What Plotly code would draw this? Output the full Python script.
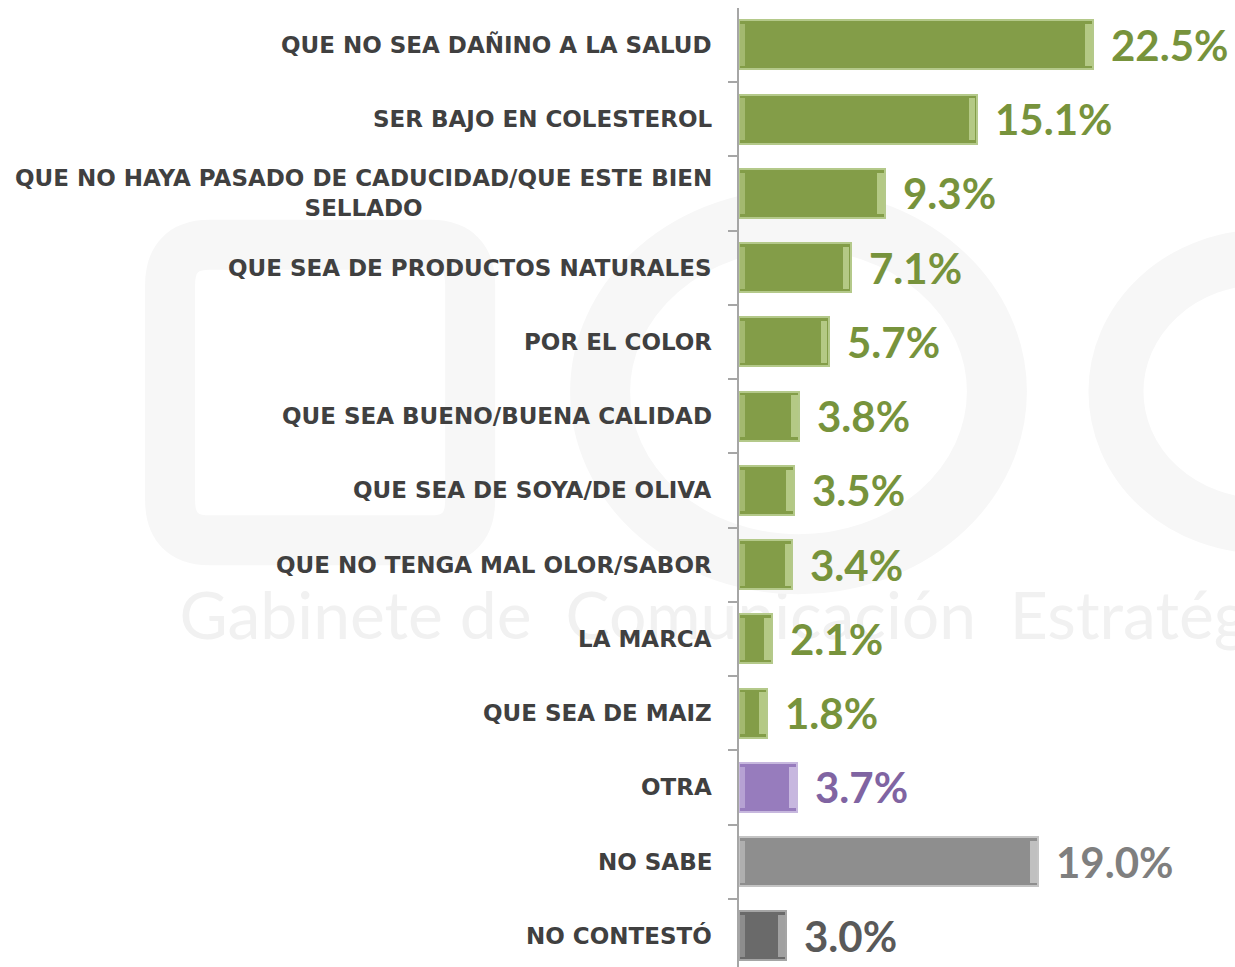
import plotly.graph_objects as go

# ---------------- data ----------------
categories = [
    "QUE NO SEA DAÑINO A LA SALUD",
    "SER BAJO EN COLESTEROL",
    "QUE NO HAYA PASADO DE CADUCIDAD/QUE ESTE BIEN<br>SELLADO",
    "QUE SEA DE PRODUCTOS NATURALES",
    "POR EL COLOR",
    "QUE SEA BUENO/BUENA CALIDAD",
    "QUE SEA DE SOYA/DE OLIVA",
    "QUE NO TENGA MAL OLOR/SABOR",
    "LA MARCA",
    "QUE SEA DE MAIZ",
    "OTRA",
    "NO SABE",
    "NO CONTESTÓ",
]
values = [22.5, 15.1, 9.3, 7.1, 5.7, 3.8, 3.5, 3.4, 2.1, 1.8, 3.7, 19.0, 3.0]
value_labels = ["22.5%", "15.1%", "9.3%", "7.1%", "5.7%", "3.8%", "3.5%", "3.4%",
                "2.1%", "1.8%", "3.7%", "19.0%", "3.0%"]

# ---------------- styles ----------------
GREEN, PURPLE, GRAY, DGRAY = "#839d48", "#977cbd", "#8e8e8e", "#6a6a6a"
bar_colors = [GREEN] * 10 + [PURPLE, GRAY, DGRAY]
edge_colors = ["#b4c98a"] * 10 + ["#c7b8de", "#c4c4c4", "#a5a5a5"]
hi_colors = ["#c9dc9f"] * 10 + ["#dcd0ee", "#d6d6d6", "#b9b9b9"]
text_colors = ["#77933c"] * 10 + ["#8064a2", "#7f7f7f", "#595959"]
LABEL_COLOR = "#404040"

pos = list(range(len(categories)))
bevel = 0.42  # width of the end highlight, in axis units

fig = go.Figure()

# main bars
fig.add_trace(go.Bar(
    y=pos, x=values, orientation="h", width=0.66,
    marker=dict(color=bar_colors, line=dict(color=edge_colors, width=2)),
    hoverinfo="skip", showlegend=False,
))
# bevel highlights at both ends
fig.add_trace(go.Bar(
    y=pos, x=[bevel] * len(values), base=[v - bevel - 0.08 for v in values],
    orientation="h", width=0.56,
    marker=dict(color=hi_colors, opacity=0.7, line=dict(width=0)),
    hoverinfo="skip", showlegend=False,
))
fig.add_trace(go.Bar(
    y=pos, x=[bevel * 0.7] * len(values), base=[0.08] * len(values),
    orientation="h", width=0.56,
    marker=dict(color=hi_colors, opacity=0.45, line=dict(width=0)),
    hoverinfo="skip", showlegend=False,
))

annotations = []
for i, (cat, v, lab, tc) in enumerate(zip(categories, values, value_labels, text_colors)):
    annotations.append(dict(
        x=0, xref="paper", y=i, yref="y", text=cat, showarrow=False,
        xanchor="right", yanchor="middle", xshift=-25, align="center",
        font=dict(family="DejaVu Sans", size=23, color=LABEL_COLOR, weight="bold"),
    ))
    annotations.append(dict(
        x=v, xref="x", y=i, yref="y", text=lab, showarrow=False,
        xanchor="left", yanchor="middle", xshift=16, yshift=0,
        font=dict(family="Lato", size=42, color=tc, weight="bold"),
    ))

# faint watermark (background decoration)
WM = "#f7f7f7"
x0, x1, y0, y1, rx, ry = -1.147, -0.542, 0.445, 0.753, 0.08, 0.042
sq_path = (f"M {x0+rx},{y1} L {x1-rx},{y1} Q {x1},{y1} {x1},{y1-ry} "
           f"L {x1},{y0+ry} Q {x1},{y0} {x1-rx},{y0} L {x0+rx},{y0} "
           f"Q {x0},{y0} {x0},{y0+ry} L {x0},{y1-ry} Q {x0},{y1} {x0+rx},{y1} Z")
shapes = [
    dict(type="rect", xref="paper", yref="paper", x0=-1.14, x1=1.0, y0=0.33, y1=0.41,
         line=dict(width=0), fillcolor="rgba(0,0,0,0)", layer="below",
         label=dict(text="Gabinete de  Comunicación  Estratégica",
                    textposition="middle left",
                    font=dict(family="Lato", size=66, color="#f1f1f1"))),
    dict(type="path", xref="paper", yref="paper", path=sq_path,
         line=dict(width=50, color=WM), fillcolor="rgba(0,0,0,0)", layer="below"),
    dict(type="circle", xref="paper", yref="paper", x0=-0.28, x1=0.52, y0=0.42, y1=0.78,
         line=dict(width=60, color=WM), fillcolor="rgba(0,0,0,0)", layer="below"),
    dict(type="circle", xref="paper", yref="paper", x0=0.76, x1=1.35, y0=0.46, y1=0.74,
         line=dict(width=55, color=WM), fillcolor="rgba(0,0,0,0)", layer="below"),
]

fig.update_layout(
    width=1235, height=967,
    margin=dict(l=739, r=0, t=8, b=0),
    paper_bgcolor="white", plot_bgcolor="rgba(0,0,0,0)",
    barmode="overlay", bargap=0,
    annotations=annotations, shapes=shapes,
    xaxis=dict(range=[0, 31.53], visible=False, fixedrange=True),
    yaxis=dict(
        range=[12.418, -0.498],
        tickvals=[p - 0.5 for p in pos] + [len(pos) - 0.5],
        ticktext=[""] * (len(pos) + 1),
        ticks="outside", ticklen=9, tickwidth=1.5, tickcolor="#a6a6a6",
        showline=True, linecolor="#a6a6a6", linewidth=1.5,
        showgrid=False, zeroline=False, showticklabels=False, fixedrange=True,
    ),
)

fig.write_html(
    "out.html",
    config={"displayModeBar": False},
    post_script="document.body.style.margin='0';document.body.style.overflow='hidden';",
)
